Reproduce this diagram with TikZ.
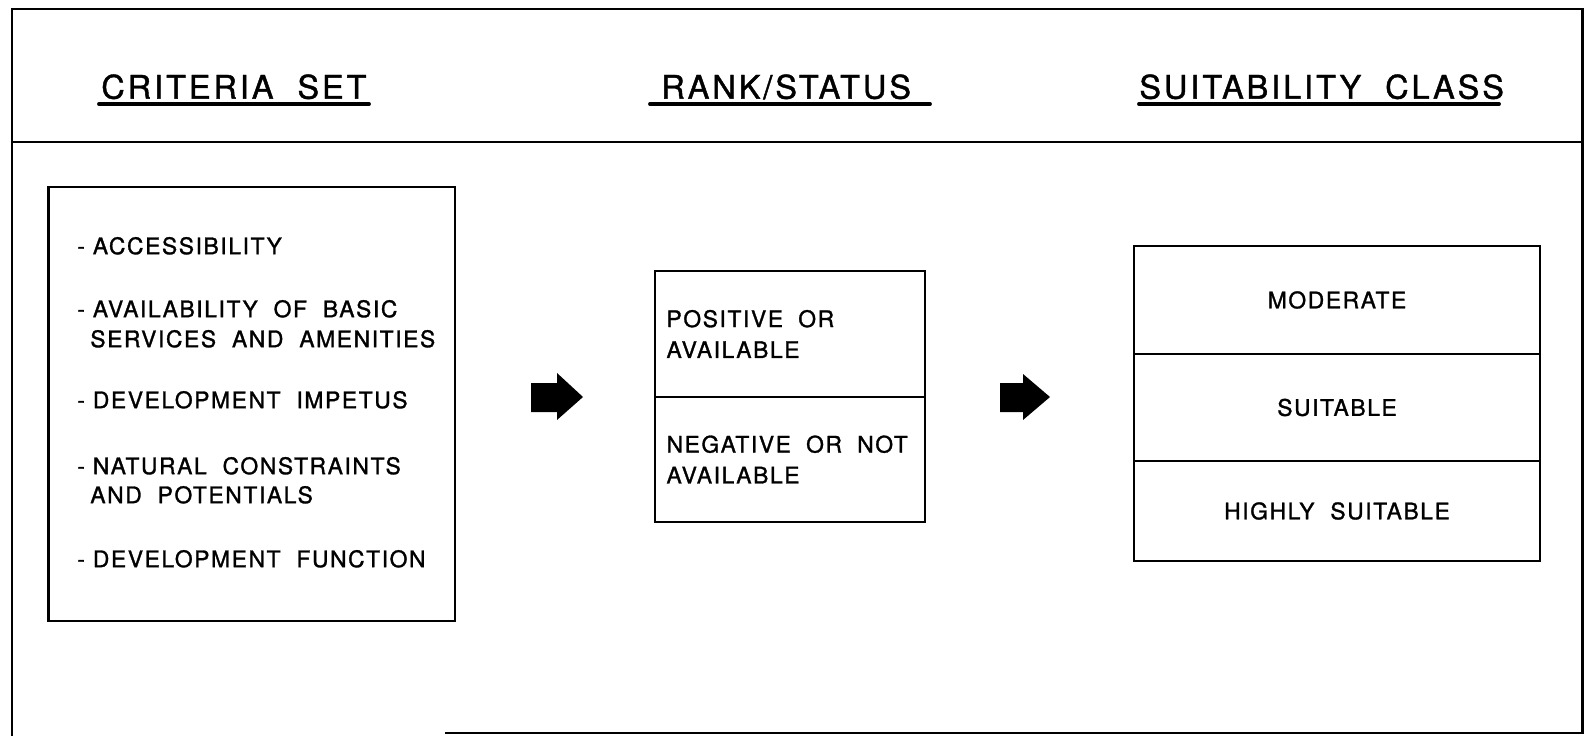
\documentclass[tikz,border=0pt]{standalone}
\usepackage{fontspec}
\setmainfont[LetterSpace=7, FakeBold=1.3]{TeX Gyre Heros}
\newfontfamily\headfont[LetterSpace=9, FakeBold=1.3]{TeX Gyre Heros}

\tikzset{
    frame/.style={line width=1.7pt},
    box/.style={draw, line width=1.4pt, rectangle, inner sep=0pt},
    item/.style={anchor=west, inner sep=0pt, font=\fontsize{13}{15}\selectfont, text height=9.3pt, text depth=0pt},
    head/.style={anchor=west, inner sep=0pt, font=\headfont\fontsize{18.5}{21}\selectfont, text height=13.3pt, text depth=0pt},
    uline/.style={line width=2.2pt, line cap=round}
}

\begin{document}
\begin{tikzpicture}[x=0.02cm, y=-0.02cm]
    \useasboundingbox (0,0) rectangle (1585,736);
    % frame and header line
    \draw[frame] (445,733) -- (1582,733) -- (1582,9) -- (12,9) -- (12,736);
    \draw[frame] (12,142) -- (1582,142);
    % headings
    \path node[head] (crit) at (101,87) {CRITERIA\ \ SET}
        node[head] (rank) at (661,87) {RANK/STATUS}
        node[head] (suit) at (1139,87) {SUITABILITY\ \ CLASS};
    \draw[uline] (99,104) -- (369,104);
    \draw[uline] (650,104) -- (930,104);
    \draw[uline] (1139,104) -- (1499,104);
    % criteria set
    \node[box, minimum width=8.13cm, minimum height=8.68cm] (critbox) at (251.75,404) {};
    \path node[item] (c1) at (77,246) {- ACCESSIBILITY}
        node[item] (c2) at (77,309) {- AVAILABILITY\ \ OF\ \ BASIC}
        node[item] (c2b) at (90,339) {SERVICES\ \ AND\ \ AMENITIES}
        node[item] (c3) at (77,400) {- DEVELOPMENT\ \ IMPETUS}
        node[item] (c4) at (77,466) {- NATURAL\ \ CONSTRAINTS}
        node[item] (c4b) at (90,495) {AND\ \ POTENTIALS}
        node[item] (c5) at (77,559) {- DEVELOPMENT\ \ FUNCTION};
    % rank / status
    \node[box, minimum width=5.4cm, minimum height=2.52cm, align=left, text width=4.94cm,
        font=\fontsize{13}{17.6}\selectfont] (pos) at (790,334) {POSITIVE\ \ OR\\AVAILABLE};
    \node[box, minimum width=5.4cm, minimum height=2.5cm, align=left, text width=4.94cm,
        font=\fontsize{13}{17.6}\selectfont] (neg) at (790,459.5) {NEGATIVE\ \ OR\ \ NOT\\AVAILABLE};
    % suitability class
    \node[box, minimum width=8.12cm, minimum height=2.16cm, font=\fontsize{13}{15}\selectfont] (mod) at (1337,300) {MODERATE};
    \node[box, minimum width=8.12cm, minimum height=2.14cm, font=\fontsize{13}{15}\selectfont] (sui) at (1337,407.5) {SUITABLE};
    \node[box, minimum width=8.12cm, minimum height=2.0cm, font=\fontsize{13}{15}\selectfont] (high) at (1337,511) {HIGHLY\ \ SUITABLE};
    % block arrows
    \fill (531,383) -- (557,383) -- (557,373) -- (583,397) -- (557,420) -- (557,412) -- (531,412) -- cycle;
    \fill (1000,383) -- (1023,383) -- (1023,374) -- (1050,397) -- (1023,420) -- (1023,412) -- (1000,412) -- cycle;
\end{tikzpicture}
\end{document}
